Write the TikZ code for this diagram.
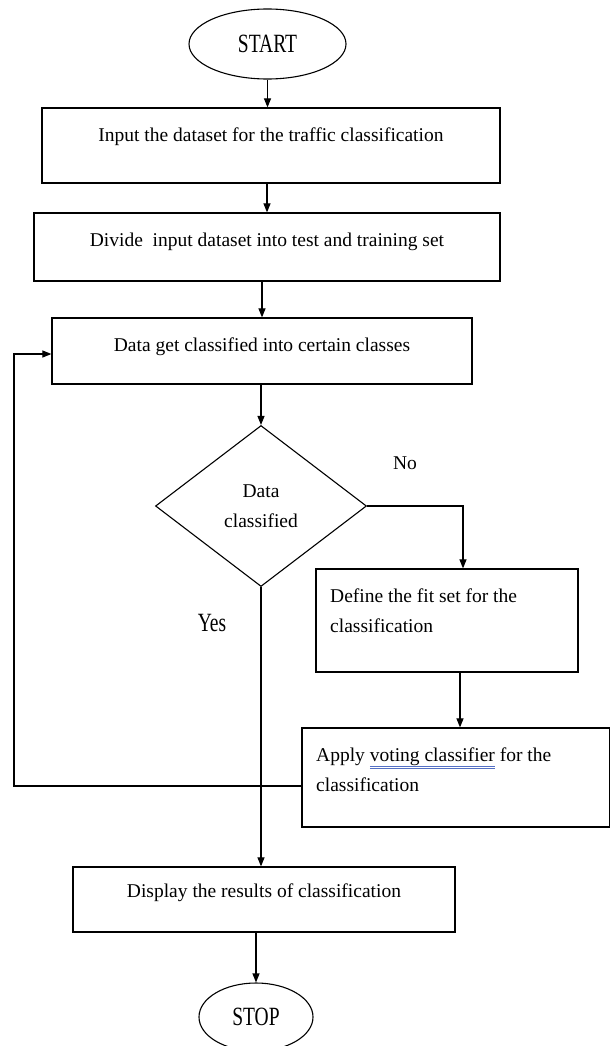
\documentclass[tikz,border=0pt]{standalone}
\usepackage{fontspec}
\setmainfont{Liberation Serif}
\usepackage{graphicx}
\usetikzlibrary{shapes.geometric,arrows.meta}
\definecolor{spellblue}{RGB}{84,112,196}
\newsavebox{\spellbox}
\newcommand{\spellmark}[1]{\sbox{\spellbox}{#1}%
  \rlap{\color{spellblue}\rule[-4.5pt]{\wd\spellbox}{0.6pt}}%
  \rlap{\color{spellblue}\rule[-7pt]{\wd\spellbox}{0.6pt}}#1}
\newcommand{\tallword}[1]{\scalebox{1}[1.35]{#1}}

\begin{document}
\begin{tikzpicture}[x=1pt, y=-1pt,
    font=\fontsize{19.5}{30}\selectfont,
    every node/.style={inner sep=0pt},
    terminal/.style={draw, ellipse, line width=1.1pt},
    process/.style={draw, rectangle, line width=1.2pt, text height=14pt},
    decision/.style={draw, diamond, line width=1.1pt, align=center},
    note/.style={anchor=north west, align=left},
    flow/.style={line width=1.1pt, -{Triangle[length=9pt,width=7pt]}}]
    \useasboundingbox (0,0) rectangle (611,1046);

    % Main column
    \node[terminal, minimum width=157pt, minimum height=70pt] (start) at (267.5,44) {\tallword{START}};
    \node[process, minimum width=458pt, minimum height=75pt, text depth=21pt] (input) at (271,145.5)
        {Input the dataset for the traffic classification};
    \node[process, minimum width=466pt, minimum height=68pt, text depth=16pt] (divide) at (267,247)
        {Divide~ input dataset into test and training set};
    \node[process, minimum width=420pt, minimum height=66pt, text depth=14pt] (classify) at (262,351)
        {Data get classified into certain classes};
    \node[decision, minimum width=211pt, minimum height=161pt] (decide) at (261,506) {Data\\classified};

    % Right branch
    \node[process, minimum width=262pt, minimum height=103pt] (fitset) at (447,620.5) {};
    \node[note] (fitsettext) at (330,588.7) {Define the fit set for the\\classification};
    \node[process, minimum width=307.5pt, minimum height=99pt] (apply) at (455.75,777.5) {};
    \node[note] (applytext) at (316,747.7) {Apply \spellmark{voting classifier} for the\\classification};

    % End
    \node[process, minimum width=382pt, minimum height=65pt, text depth=19pt] (display) at (264,899.5)
        {Display the results of classification};
    \node[terminal, minimum width=114pt, minimum height=68pt] (stop) at (256,1017) {\tallword{STOP}};

    % Labels
    \node (nolabel) at (405,463) {No};
    \node (yeslabel) at (212,623) {\tallword{Yes}};

    % Connectors
    \draw[flow] (start) -- (start |- input.north);
    \draw[flow] (divide.north |- input.south) -- (divide.north);
    \draw[flow] (classify.north |- divide.south) -- (classify.north);
    \draw[flow] (decide.north |- classify.south) -- (decide.north);
    \draw[flow] (decide.east) -| ([xshift=16pt]fitset.north);
    \draw[flow] ([xshift=13pt]fitset.south) -- ([xshift=13pt]fitset.south |- apply.north);
    \draw[flow] (decide.south) -- (decide.south |- display.north);
    \coordinate (loopturn) at (14,786);
    \draw[flow] ([yshift=-8.5pt]apply.west) -- (loopturn) |- ([yshift=-3pt]classify.west);
    \draw[flow] (stop |- display.south) -- (stop.north);
\end{tikzpicture}
\end{document}
